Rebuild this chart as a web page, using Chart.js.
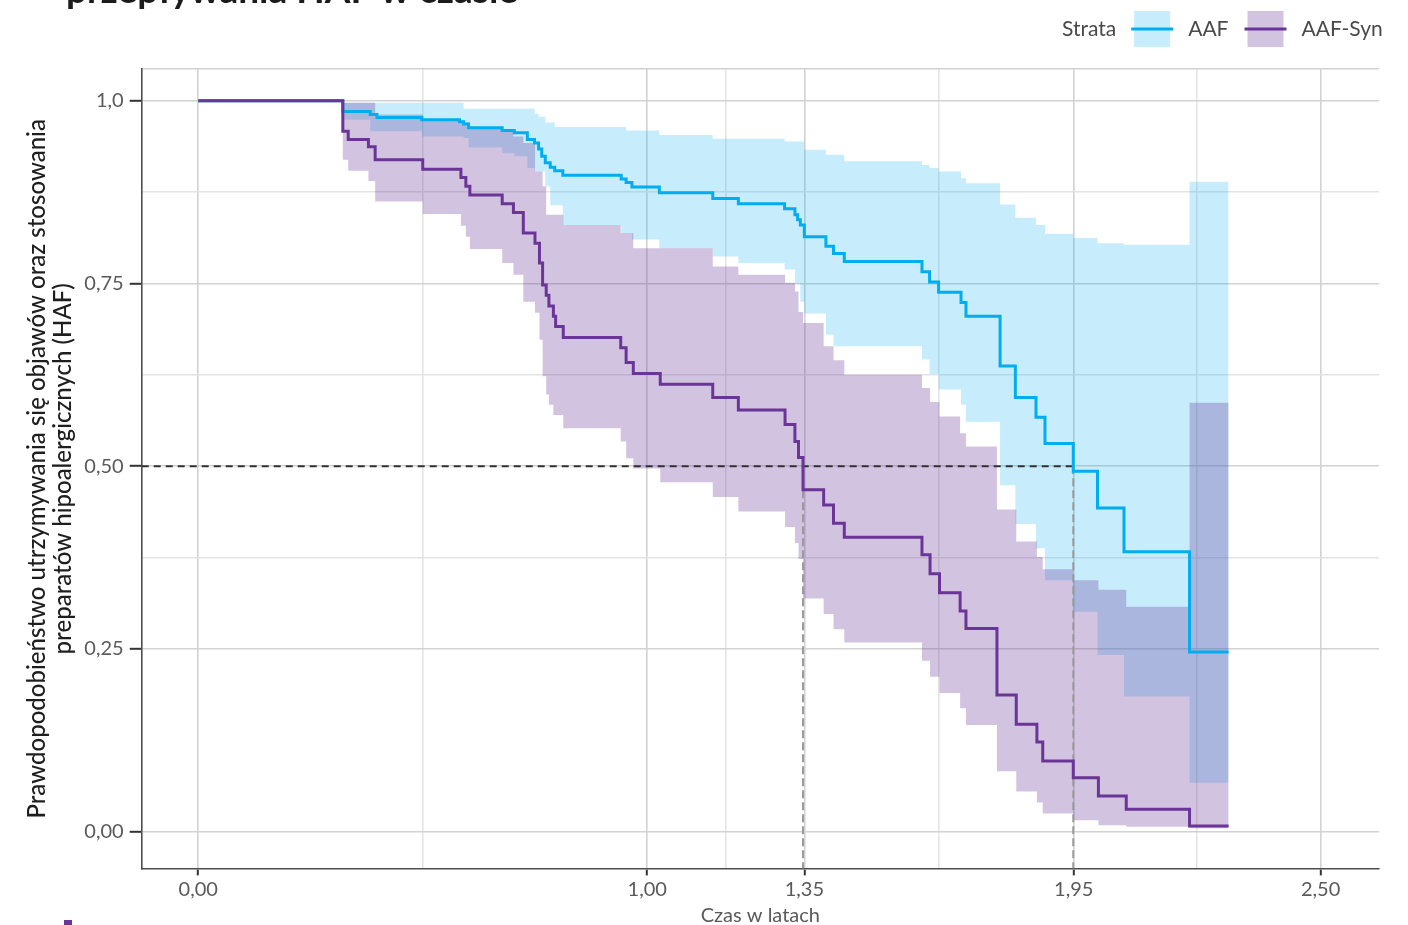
<!DOCTYPE html>
<html lang="pl">
<head>
<meta charset="utf-8">
<title>Przeżycie bez objawów – AAF vs AAF-Syn</title>
<script src="https://cdn.jsdelivr.net/npm/chart.js@4.4.1/dist/chart.umd.min.js"></script>
<style>
  html, body { margin: 0; padding: 0; background: #fff; }
  canvas { display: block; }
</style>
</head>
<body>
<canvas id="kmChart" width="1408" height="925"></canvas>
<script>
// AAF: event times (years), survival, 95% CI
const aafTimes = [0, 0.322, 0.383, 0.398, 0.498, 0.582, 0.591, 0.602, 0.677, 0.704, 0.733, 0.749, 0.758, 0.765, 0.773, 0.784, 0.794, 0.812, 0.942, 0.953, 0.966, 1.027, 1.146, 1.203, 1.306, 1.329, 1.335, 1.341, 1.350, 1.398, 1.415, 1.439, 1.612, 1.629, 1.649, 1.699, 1.710, 1.786, 1.820, 1.866, 1.886, 1.949, 2.003, 2.062, 2.208, 2.295];
const aafSurv = [1.0, 0.985, 0.981, 0.977, 0.974, 0.971, 0.968, 0.963, 0.959, 0.956, 0.947, 0.942, 0.934, 0.924, 0.915, 0.909, 0.904, 0.898, 0.893, 0.888, 0.882, 0.874, 0.866, 0.859, 0.852, 0.844, 0.837, 0.830, 0.814, 0.801, 0.791, 0.780, 0.766, 0.752, 0.738, 0.724, 0.705, 0.637, 0.594, 0.567, 0.531, 0.493, 0.443, 0.383, 0.246, 0.246];
const aafUpper = [1.0, 0.997, 0.997, 0.997, 0.997, 0.997, 0.989, 0.989, 0.989, 0.989, 0.989, 0.982, 0.978, 0.978, 0.970, 0.970, 0.964, 0.964, 0.964, 0.959, 0.959, 0.953, 0.948, 0.948, 0.944, 0.944, 0.944, 0.944, 0.933, 0.926, 0.926, 0.917, 0.912, 0.908, 0.903, 0.894, 0.887, 0.858, 0.840, 0.830, 0.818, 0.812, 0.805, 0.803, 0.889, 0.889];
const aafLower = [1.0, 0.974, 0.958, 0.958, 0.951, 0.951, 0.949, 0.936, 0.928, 0.924, 0.908, 0.903, 0.903, 0.903, 0.883, 0.857, 0.857, 0.830, 0.819, 0.819, 0.810, 0.798, 0.787, 0.778, 0.769, 0.750, 0.750, 0.725, 0.709, 0.680, 0.664, 0.664, 0.646, 0.626, 0.605, 0.584, 0.561, 0.474, 0.421, 0.388, 0.344, 0.301, 0.242, 0.185, 0.067, 0.067];

// AAF-Syn: event times (years), survival, 95% CI
const synTimes = [0, 0.322, 0.334, 0.379, 0.394, 0.500, 0.585, 0.596, 0.605, 0.677, 0.702, 0.724, 0.750, 0.760, 0.767, 0.775, 0.781, 0.791, 0.796, 0.813, 0.941, 0.953, 0.969, 1.029, 1.146, 1.203, 1.307, 1.329, 1.337, 1.347, 1.393, 1.415, 1.439, 1.612, 1.630, 1.651, 1.697, 1.710, 1.779, 1.822, 1.868, 1.881, 1.949, 2.005, 2.067, 2.208, 2.295];
const synSurv = [1.0, 0.958, 0.947, 0.937, 0.919, 0.906, 0.895, 0.883, 0.871, 0.859, 0.847, 0.819, 0.805, 0.778, 0.748, 0.734, 0.719, 0.705, 0.691, 0.676, 0.662, 0.642, 0.627, 0.612, 0.594, 0.577, 0.557, 0.534, 0.512, 0.468, 0.447, 0.422, 0.403, 0.379, 0.353, 0.327, 0.302, 0.278, 0.187, 0.147, 0.123, 0.097, 0.074, 0.049, 0.031, 0.008, 0.008];
const synUpper = [1.0, 0.997, 0.997, 0.997, 0.981, 0.975, 0.970, 0.970, 0.963, 0.958, 0.951, 0.942, 0.903, 0.903, 0.883, 0.844, 0.844, 0.844, 0.844, 0.830, 0.819, 0.819, 0.798, 0.798, 0.773, 0.762, 0.751, 0.739, 0.711, 0.696, 0.664, 0.645, 0.625, 0.607, 0.588, 0.568, 0.545, 0.527, 0.441, 0.397, 0.376, 0.359, 0.344, 0.331, 0.308, 0.587, 0.587];
const synLower = [1.0, 0.919, 0.904, 0.890, 0.862, 0.845, 0.829, 0.814, 0.797, 0.778, 0.762, 0.725, 0.710, 0.673, 0.623, 0.598, 0.584, 0.570, 0.570, 0.552, 0.534, 0.511, 0.497, 0.478, 0.458, 0.438, 0.417, 0.395, 0.373, 0.319, 0.298, 0.277, 0.259, 0.234, 0.212, 0.190, 0.169, 0.146, 0.083, 0.055, 0.040, 0.025, 0.016, 0.009, 0.007, 0.005, 0.005];

// median survival times [AAF-Syn, AAF]
const medianTimes = [1.347, 1.949];
const medianLevel = 0.5;

// axes
const xTickValues = [0, 1.0, 1.35, 1.95, 2.5];
const xTickLabels = ['0,00', '1,00', '1,35', '1,95', '2,50'];
const xMinorValues = [0.5, 1.175, 1.65, 2.225];
const yTickValues = [0, 0.25, 0.5, 0.75, 1.0];
const yTickLabels = ['0,00', '0,25', '0,50', '0,75', '1,0'];
const yMinorValues = [0.375, 0.625, 0.875];

const seriesNames = ['AAF', 'AAF-Syn'];
const legendTitle = 'Strata';
const xTitle = 'Czas w latach';
const yTitle = ['Prawdopodobieństwo utrzymywania się objawów oraz stosowania', 'preparatów hipoalergicznych (HAF)'];
const headingText = 'przepływania HAF w czasie';

const X_MIN = -0.126, X_MAX = 2.630;
const Y_MIN = -0.05, Y_MAX = 1.043;

const AAF_COLOR = '#00aeef';
const SYN_COLOR = '#6a3597';
const AAF_BAND = 'rgba(0, 169, 236, 0.22)';
const SYN_BAND = 'rgba(106, 61, 154, 0.30)';
const GRID_MAJOR = '#d2d2d2';
const GRID_MINOR = '#e4e4e4';
const FONT = 'Lato, "Open Sans", sans-serif';

const toPoints = (xs, ys) => xs.map((x, i) => ({ x: x, y: ys[i] }));

const band = (label, xs, ys, fillColor, fill) => ({
    label: label,
    data: toPoints(xs, ys),
    stepped: 'before',
    borderWidth: 0,
    borderColor: 'transparent',
    backgroundColor: fillColor,
    pointRadius: 0,
    fill: fill
});

const curve = (label, xs, ys, color) => ({
    label: label,
    data: toPoints(xs, ys),
    stepped: 'before',
    borderWidth: 3,
    borderColor: color,
    pointRadius: 0,
    fill: false
});

const dashed = (label, pts, color, dash) => ({
    label: label,
    data: pts,
    borderWidth: 2,
    borderColor: color,
    borderDash: dash,
    pointRadius: 0,
    fill: false
});

const isMajor = (list, v) => list.indexOf(v) >= 0;

// Legend, cut-off heading and the small mark below the plot
const decorations = {
    id: 'decorations',
    afterDraw(chart) {
        const ctx = chart.ctx;
        ctx.save();

        ctx.fillStyle = '#1b1b1b';
        ctx.font = 'bold 37px ' + FONT;
        ctx.textBaseline = 'alphabetic';
        ctx.fillText(headingText, 66, 3);

        ctx.fillStyle = SYN_COLOR;
        ctx.fillRect(64, 920, 8, 5);

        const midY = 29;
        ctx.font = '21px ' + FONT;
        ctx.textBaseline = 'middle';
        ctx.fillStyle = '#4a4a4a';
        let x = 1062;
        ctx.fillText(legendTitle, x, midY);
        x += ctx.measureText(legendTitle).width + 18;

        const swatch = [[AAF_BAND, AAF_COLOR], [SYN_BAND, SYN_COLOR]];
        seriesNames.forEach((name, i) => {
            ctx.fillStyle = swatch[i][0];
            ctx.fillRect(x, 11, 36, 36);
            ctx.strokeStyle = swatch[i][1];
            ctx.lineWidth = 3;
            ctx.beginPath();
            ctx.moveTo(x - 3, midY);
            ctx.lineTo(x + 39, midY);
            ctx.stroke();
            x += 36 + 18;
            ctx.fillStyle = '#4a4a4a';
            ctx.fillText(name, x, midY);
            x += ctx.measureText(name).width + 19;
        });

        ctx.restore();
    }
};

const ctx = document.getElementById('kmChart').getContext('2d');
new Chart(ctx, {
    type: 'line',
    data: {
        datasets: [
            Object.assign(band('AAF CI upper', aafTimes, aafUpper, AAF_BAND, false), { order: 5 }),
            Object.assign(band('AAF CI lower', aafTimes, aafLower, AAF_BAND, '-1'), { order: 5 }),
            Object.assign(band('AAF-Syn CI upper', synTimes, synUpper, SYN_BAND, false), { order: 4 }),
            Object.assign(band('AAF-Syn CI lower', synTimes, synLower, SYN_BAND, '-1'), { order: 4 }),
            Object.assign(dashed('Mediana AAF-Syn', [{ x: medianTimes[0], y: medianLevel }, { x: medianTimes[0], y: Y_MIN }], '#9a9a9a', [8, 4]), { order: 3 }),
            Object.assign(dashed('Mediana AAF', [{ x: medianTimes[1], y: medianLevel }, { x: medianTimes[1], y: Y_MIN }], '#9a9a9a', [8, 4]), { order: 3 }),
            Object.assign(dashed('50%', [{ x: X_MIN, y: medianLevel }, { x: medianTimes[1], y: medianLevel }], '#333333', [7, 5]), { order: 2 }),
            Object.assign(curve(seriesNames[0], aafTimes, aafSurv, AAF_COLOR), { order: 1 }),
            Object.assign(curve(seriesNames[1], synTimes, synSurv, SYN_COLOR), { order: 0 })
        ]
    },
    options: {
        responsive: false,
        animation: false,
        events: [],
        layout: { padding: { top: 69.2, right: 29, left: 0, bottom: 0 } },
        plugins: {
            legend: { display: false },
            tooltip: { enabled: false },
            title: { display: false }
        },
        scales: {
            x: {
                type: 'linear',
                min: X_MIN,
                max: X_MAX,
                afterFit: (axis) => { axis.height = 925 - 868.4; },
                afterBuildTicks: (axis) => {
                    axis.ticks = xTickValues.concat(xMinorValues).sort((a, b) => a - b).map(v => ({ value: v }));
                },
                grid: {
                    color: (c) => isMajor(xTickValues, c.tick.value) ? GRID_MAJOR : GRID_MINOR,
                    lineWidth: 1.6,
                    tickLength: 7,
                    tickWidth: 2,
                    tickColor: (c) => isMajor(xTickValues, c.tick.value) ? '#333333' : 'rgba(0,0,0,0)'
                },
                border: { display: true, color: '#4d4d4d', width: 1.6 },
                ticks: {
                    autoSkip: false,
                    maxRotation: 0,
                    padding: 2,
                    color: '#5a5a5a',
                    font: { family: FONT, size: 20 },
                    callback: (v) => {
                        const i = xTickValues.indexOf(v);
                        return i >= 0 ? xTickLabels[i] : '';
                    }
                },
                title: {
                    display: true,
                    text: xTitle,
                    color: '#5a5a5a',
                    font: { family: FONT, size: 20, lineHeight: 1 },
                    padding: { top: 0, bottom: -1 }
                }
            },
            y: {
                type: 'linear',
                min: Y_MIN,
                max: Y_MAX,
                afterFit: (axis) => { axis.width = 141.7; },
                afterBuildTicks: (axis) => {
                    axis.ticks = yTickValues.concat(yMinorValues, [Y_MAX]).sort((a, b) => a - b).map(v => ({ value: v }));
                },
                grid: {
                    color: (c) => isMajor(yMinorValues, c.tick.value) ? GRID_MINOR : GRID_MAJOR,
                    lineWidth: 1.6,
                    tickLength: 12,
                    tickWidth: 2,
                    tickColor: (c) => isMajor(yTickValues, c.tick.value) ? '#333333' : 'rgba(0,0,0,0)'
                },
                border: { display: true, color: '#4d4d4d', width: 1.6 },
                ticks: {
                    autoSkip: false,
                    padding: 6,
                    color: '#5a5a5a',
                    font: { family: FONT, size: 20 },
                    callback: (v) => {
                        const i = yTickValues.indexOf(v);
                        return i >= 0 ? yTickLabels[i] : '';
                    }
                },
                title: {
                    display: true,
                    text: yTitle,
                    color: '#1e1e1e',
                    font: { family: FONT, size: 24, weight: '500', lineHeight: 1.08 },
                    padding: { top: 24, bottom: 0 }
                }
            }
        }
    },
    plugins: [decorations]
});
</script>
</body>
</html>
